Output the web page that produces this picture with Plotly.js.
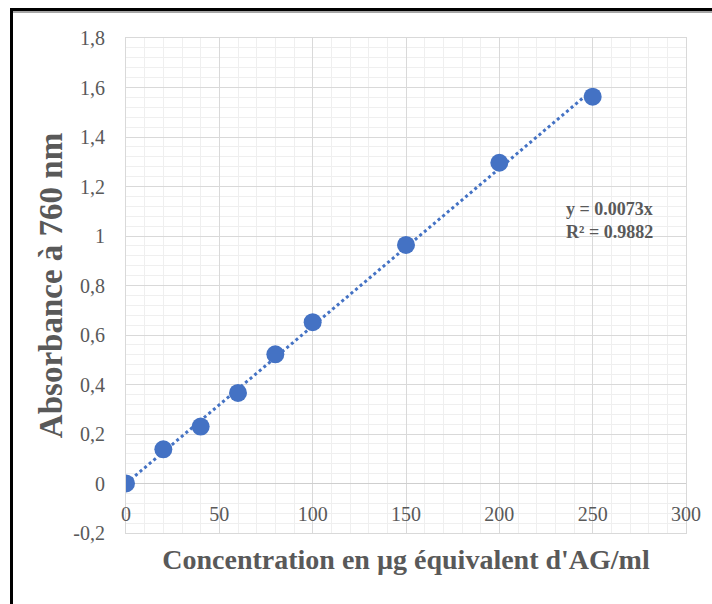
<!DOCTYPE html>
<html>
<head>
<meta charset="utf-8">
<script src="https://cdn.plot.ly/plotly-3.0.1.min.js"></script>
<style>
  html, body { margin: 0; padding: 0; background: #ffffff; }
  #chart { position: absolute; left: 0; top: 0; width: 712px; height: 604px; }
  .frame-top { position: absolute; left: 11px; top: 8px; width: 701px; height: 0;
               border-top: 3px solid #000; z-index: 5; }
  .frame-top2 { position: absolute; left: 13px; top: 11px; width: 699px; height: 0;
                border-top: 2px solid #a6a6a6; z-index: 5; }
  .frame-left { position: absolute; left: 10px; top: 8px; width: 0; height: 596px;
                border-left: 3px solid #000; z-index: 5; }
</style>
</head>
<body>
<div id="chart"></div>
<div class="frame-top"></div>
<div class="frame-top2"></div>
<div class="frame-left"></div>
<script>
// Gallic acid calibration: concentration (µg/ml) vs absorbance at 760 nm
const concentration = [0, 20, 40, 60, 80, 100, 150, 200, 250];
const absorbance    = [0, 0.138, 0.230, 0.366, 0.522, 0.652, 0.964, 1.296, 1.563];

const xTickVals = [0, 50, 100, 150, 200, 250, 300];
const yTickVals = [-0.2, 0, 0.2, 0.4, 0.6, 0.8, 1, 1.2, 1.4, 1.6, 1.8];
const yTickText = ['-0,2', '0', '0,2', '0,4', '0,6', '0,8', '1', '1,2', '1,4', '1,6', '1,8'];

const equationText = 'y = 0.0073x<br>R² = 0.9882';

// Least-squares line through the origin, drawn over the span of the data
let sxy = 0, sxx = 0;
for (let i = 0; i < concentration.length; i++) {
  sxy += concentration[i] * absorbance[i];
  sxx += concentration[i] * concentration[i];
}
const slope = sxy / sxx;
const xMin = Math.min(...concentration), xMax = Math.max(...concentration);
const trendX = [xMin, xMax];
const trendY = trendX.map(v => slope * v);

const serif = '"Liberation Serif", "Times New Roman", serif';
const grey = '#595959';
const blue = '#4472C4';

const traces = [
  {
    x: trendX, y: trendY, type: 'scatter', mode: 'lines',
    line: { color: blue, width: 3, dash: 'dot' },
    hoverinfo: 'skip', showlegend: false
  },
  {
    x: concentration, y: absorbance, type: 'scatter', mode: 'markers',
    marker: { color: blue, size: 18 },
    showlegend: false
  },
  // carries the x tick labels along the y = 0 line
  {
    x: [0], y: [0], xaxis: 'x2', type: 'scatter', mode: 'markers',
    marker: { opacity: 0 }, hoverinfo: 'skip', showlegend: false
  }
];

const layout = {
  width: 712, height: 604,
  margin: { l: 126, r: 26, t: 38, b: 71 },
  paper_bgcolor: 'rgba(0,0,0,0)',
  plot_bgcolor: '#ffffff',
  font: { family: serif, color: grey },
  xaxis: {
    range: [0, 300],
    tickvals: xTickVals,
    showticklabels: false,
    showgrid: true, gridcolor: '#d9d9d9', gridwidth: 1,
    minor: { dtick: 10, showgrid: true, gridcolor: '#efefef', gridwidth: 1 },
    showline: true, mirror: true, linecolor: '#d9d9d9', linewidth: 1,
    zeroline: false,
    title: {
      text: "Concentration en µg équivalent d'AG/ml",
      font: { family: serif, size: 28, color: grey, weight: 'bold' },
      standoff: 16
    }
  },
  xaxis2: {
    overlaying: 'x', matches: 'x', anchor: 'free', position: 0.1,
    tickvals: xTickVals,
    showgrid: false, zeroline: false, showline: false,
    ticks: '', ticklabelstandoff: 16,
    tickfont: { family: serif, size: 20, color: grey }
  },
  yaxis: {
    range: [-0.2, 1.8],
    tickvals: yTickVals, ticktext: yTickText,
    tickfont: { family: serif, size: 20, color: grey },
    ticks: '', ticklabelstandoff: 16,
    showgrid: true, gridcolor: '#d9d9d9', gridwidth: 1,
    minor: { dtick: 0.04, showgrid: true, gridcolor: '#efefef', gridwidth: 1 },
    showline: true, mirror: true, linecolor: '#d9d9d9', linewidth: 1,
    zeroline: true, zerolinecolor: '#cfcfcf', zerolinewidth: 1.5,
    title: {
      text: 'Absorbance à 760 nm',
      font: { family: serif, size: 33, color: grey, weight: 'bold' },
      standoff: 0
    }
  },
  annotations: [
    {
      xref: 'paper', yref: 'paper', x: 0.782, y: 0.632,
      xanchor: 'left', yanchor: 'middle', align: 'left',
      text: equationText, showarrow: false,
      font: { family: serif, size: 18, color: grey, weight: 'bold' }
    }
  ]
};

Plotly.newPlot('chart', traces, layout, { displayModeBar: false, staticPlot: true });
</script>
</body>
</html>
